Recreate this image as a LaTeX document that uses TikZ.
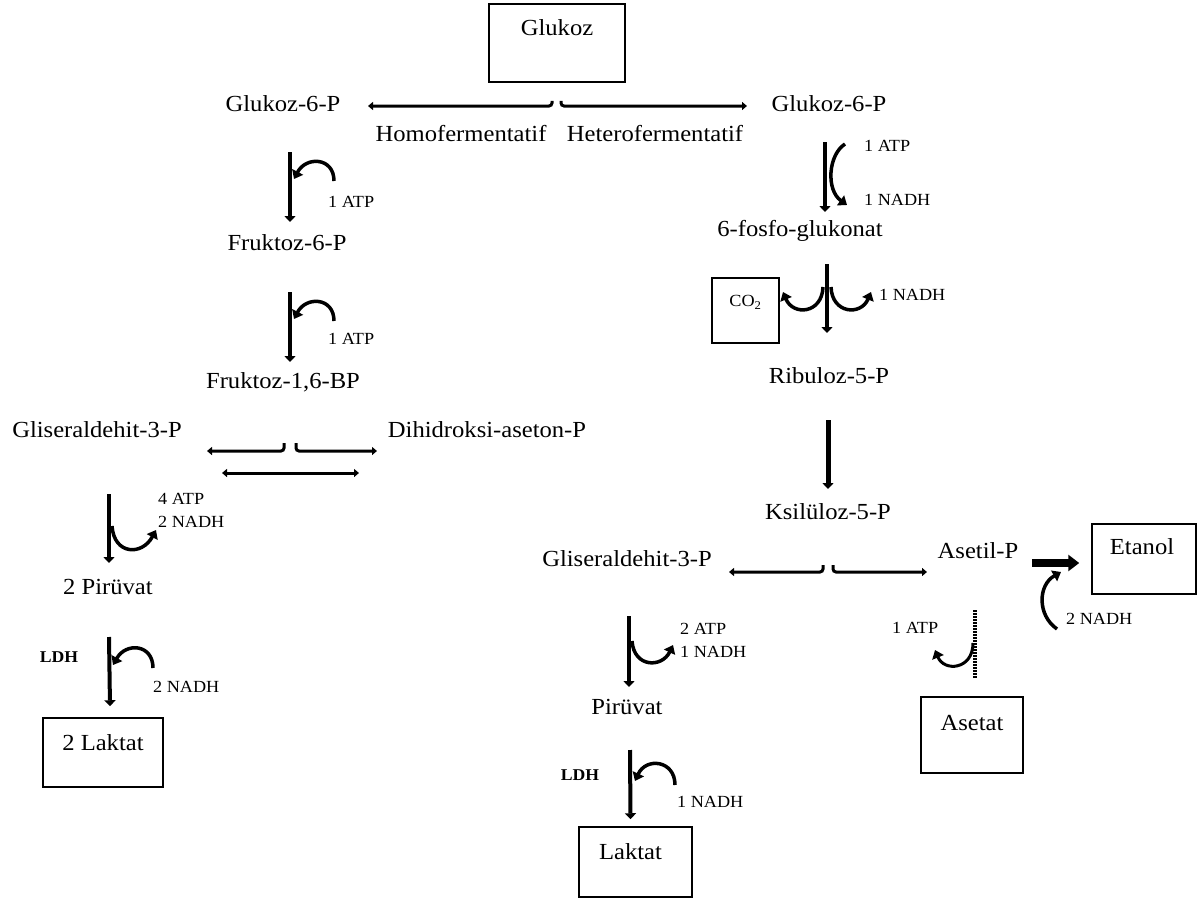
\documentclass[tikz,border=0pt]{standalone}
\usepackage{fontspec}
\setmainfont{Liberation Serif}[FakeStretch=1.07]
\usetikzlibrary{
    arrows.meta,
    positioning,
    calc
}

\tikzset{
    metab/.style={font=\fontsize{23}{27}\selectfont, inner sep=2pt, text height=16pt, text depth=5pt},
    cofac/.style={font=\fontsize{17}{23}\selectfont, inner sep=0pt, align=left, anchor=west},
    enzyme/.style={font=\bfseries\fontsize{16.5}{19}\selectfont, inner sep=0pt},
    prodbox/.style={draw, line width=1.5pt, inner sep=0pt},
    flow/.style={line width=4pt, -{Triangle[length=6pt,width=11pt]}},
    branch/.style={line width=3pt, rounded corners=3pt, -{Triangle[length=5pt,width=8pt]}},
    side/.style={line width=3.5pt, -{Triangle[length=8pt,width=12pt]}}
}

\begin{document}
\begin{tikzpicture}[x=1pt, y=-1pt]
    \useasboundingbox (0,0) rectangle (1197,899);

    % boxes
    \node[prodbox, minimum width=136pt, minimum height=78pt,
        label={[metab, anchor=north, yshift=-14pt]north:Glukoz}] (glukoz) at (557,43) {};
    \node[prodbox, minimum width=120pt, minimum height=69pt,
        label={[metab, anchor=north, yshift=-15pt]north:2 Laktat}] (laktat2) at (103,752.5) {};
    \node[prodbox, minimum width=113pt, minimum height=70pt,
        label={[metab, anchor=north, xshift=-5pt, yshift=-15pt]north:Laktat}] (laktat) at (635.5,862) {};
    \node[prodbox, minimum width=102pt, minimum height=76pt,
        label={[metab, anchor=north, yshift=-16pt]north:Asetat}] (asetat) at (972,735) {};
    \node[prodbox, minimum width=104pt, minimum height=70pt,
        label={[metab, anchor=north, xshift=-2pt, yshift=-13pt]north:Etanol}] (etanol) at (1144,559) {};
    \node[prodbox, minimum width=67pt, minimum height=65pt,
        label={[cofac, anchor=north, yshift=-18pt]north:CO\textsubscript{2}}] (co2) at (745.5,310.5) {};

    % homofermentatif
    \node[metab] (g6pL) at (283,106) {Glukoz-6-P};
    \node[metab] (homo) at (461,136) {Homofermentatif};
    \node[metab] (f6p) at (287,245) {Fruktoz-6-P};
    \node[metab] (f16bp) at (283,383) {Fruktoz-1,6-BP};
    \node[metab] (gapL) at (97,432) {Gliseraldehit-3-P};
    \node[metab] (dhap) at (487,432) {Dihidroksi-aseton-P};
    \node[metab] (pyr2) at (108,589) {2 Pirüvat};

    % heterofermentatif
    \node[metab] (g6pR) at (829,106) {Glukoz-6-P};
    \node[metab] (hetero) at (655,136) {Heterofermentatif};
    \node[metab] (pgluc) at (800,231) {6-fosfo-glukonat};
    \node[metab] (ru5p) at (829,378) {Ribuloz-5-P};
    \node[metab] (xu5p) at (828,514) {Ksilüloz-5-P};
    \node[metab] (gapR) at (627,561) {Gliseraldehit-3-P};
    \node[metab] (acp) at (978,553) {Asetil-P};
    \node[metab] (pyr) at (627,709) {Pirüvat};

    % cofactors
    \node[cofac] (atp1) at (328,202) {1 ATP};
    \node[cofac] (atp2) at (328,339) {1 ATP};
    \node[cofac] (atpnadh1) at (158,510) {4 ATP\\2 NADH};
    \node[cofac] (nadh1) at (153,687) {2 NADH};
    \node[enzyme] (ldh1) at (59,657) {LDH};
    \node[cofac] (atp3) at (864,146) {1 ATP};
    \node[cofac] (nadh2) at (864,200) {1 NADH};
    \node[cofac] (nadh3) at (879,295) {1 NADH};
    \node[cofac] (atpnadh2) at (680,640) {2 ATP\\1 NADH};
    \node[cofac] (nadh4) at (677,802) {1 NADH};
    \node[enzyme] (ldh2) at (580,775) {LDH};
    \node[cofac] (atp4) at (892,628) {1 ATP};
    \node[cofac] (nadh5) at (1066,619) {2 NADH};

    % split from glucose
    \draw[branch] ($(glukoz.south)+(-5,18)$) |- ($(g6pL)+(85,0)$);
    \draw[branch] ($(glukoz.south)+(4,18)$) |- ($(g6pR)+(-82,0)$);

    % homofermentative path
    \draw[flow] ($(g6pL)+(7,46)$) -- ($(f6p)+(3,-23)$);
    \draw[side] (334,181) .. controls (334,157) and (306,156) .. (294,179);
    \draw[flow] ($(f6p)+(3,47)$) -- ($(f16bp)+(7,-21)$);
    \draw[side] (334,321) .. controls (334,297) and (306,296) .. (294,319);
    \draw[branch] ($(f16bp)+(1,60)$) |- ($(gapL)+(110,19)$);
    \draw[branch] ($(f16bp)+(13,60)$) |- ($(dhap)+(-110,19)$);
    \draw[branch, {Triangle[length=5pt,width=8pt]}-{Triangle[length=5pt,width=8pt]}]
        ($(gapL)+(125,41)$) -- ($(dhap)+(-128,41)$);
    \draw[flow] ($(gapL)+(12,62)$) -- ($(pyr2)+(1,-26)$);
    \draw[side] (112,526) .. controls (114,555) and (142,556) .. (156,530);
    \draw[flow] ($(pyr2)+(1,48)$) -- ($(laktat2.north)+(7,-11)$);
    \draw[side] (153,668) .. controls (153,644) and (126,642) .. (113,665);

    % heterofermentative path
    \draw[flow] ($(g6pR)+(-4,36)$) -- ($(pgluc)+(25,-19)$);
    \draw[side] (845,144) .. controls (828,155) and (826,190) .. (847,205);
    \draw[flow] ($(pgluc)+(27,33)$) -- ($(ru5p)+(-2,-45)$);
    \draw[side] (823,287) .. controls (822,314) and (793,316) .. (783,292);
    \draw[side] (831,287) .. controls (832,314) and (861,316) .. (871,292);
    \draw[flow, line width=5pt] ($(ru5p)+(-1,42)$) -- ($(xu5p)+(0,-25)$);
    \draw[branch] ($(xu5p)+(-5,51)$) |- ($(gapR)+(102,11)$);
    \draw[branch] ($(xu5p)+(5,51)$) |- ($(acp)+(-51,19)$);
    \draw[flow] ($(gapR)+(2,55)$) -- ($(pyr)+(2,-22)$);
    \draw[side] (632,641) .. controls (634,668) and (662,668) .. (673,645);
    \draw[flow] ($(pyr)+(3,41)$) -- ($(laktat.north)+(-5,-7)$);
    \draw[side] (675,785) .. controls (675,760) and (646,757) .. (635,781);
    \draw[line width=8pt, -{Triangle[length=11pt,width=16pt]}]
        ($(acp)+(54,10)$) -- ($(etanol.west)+(-12,4)$);
    \draw[side] (1057,629) .. controls (1037,615) and (1038,585) .. (1061,572);
    \draw[line width=4pt, dash pattern=on 1.5pt off 1.5pt]
        ($(acp)+(-3,57)$) -- ($(asetat.north)+(3,-18)$);
    \draw[side, line width=3pt] (973,643) .. controls (973,670) and (944,672) .. (935,650);
\end{tikzpicture}
\end{document}
